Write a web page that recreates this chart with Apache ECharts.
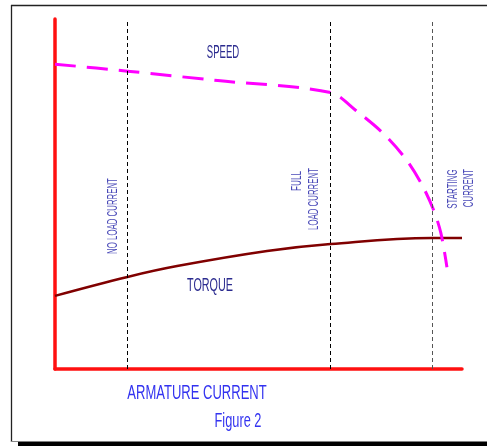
<!DOCTYPE html>
<html>
<head>
<meta charset="utf-8">
<script src="https://cdn.jsdelivr.net/npm/echarts@6/dist/echarts.min.js"></script>
<style>html,body{margin:0;padding:0;background:#fff}#c{width:487px;height:446px}</style>
</head>
<body>
<div id="c"></div>
<script>
// Armature current (x, % of axis) vs speed / torque (y, % of axis)
const speedX = [0, 17.8, 40, 67.7, 74.0, 80.3, 86.0, 90.0, 93.0, 94.8, 96.3];
const speedY = [87.1, 85.1, 82.4, 79.0, 73.8, 67.7, 60.3, 53.0, 45.5, 38.9, 29.1];
const torqueX = [0, 17.8, 30.0, 52.1, 67.7, 92.6, 100];
const torqueY = [20.9, 26.3, 29.4, 33.7, 35.7, 37.4, 37.4];
const markerX = [17.8, 67.7, 92.6];
const markerNames = ['NO LOAD CURRENT', 'FULL LOAD CURRENT', 'STARTING CURRENT'];

const chart = echarts.init(document.getElementById('c'), null, {renderer: 'canvas'});
const FONT = 'Liberation Sans';

function txt(text, x, y, size, color, sx, rot) {
  return {
    type: 'text', x: x, y: y, scaleX: sx, rotation: rot || 0, z: 10,
    style: {text: text, fontFamily: FONT, fontSize: size, fill: color,
            align: 'center', verticalAlign: 'middle'}
  };
}
const R = Math.PI / 2;

chart.setOption({
  animation: false,
  backgroundColor: '#fff',
  grid: {left: 55, right: 25, top: 19, bottom: 77},
  xAxis: {type: 'value', min: 0, max: 100,
    axisLine: {show: true, onZero: false, lineStyle: {color: '#ff1010', width: 3.5}},
    axisTick: {show: false}, axisLabel: {show: false}, splitLine: {show: false}},
  yAxis: {type: 'value', min: 0, max: 100,
    axisLine: {show: true, onZero: false, lineStyle: {color: '#ff1010', width: 3.5}},
    axisTick: {show: false}, axisLabel: {show: false}, splitLine: {show: false}},
  series: [
    {type: 'line', name: 'TORQUE', data: torqueX.map((x, i) => [x, torqueY[i]]),
     smooth: 0.4, symbol: 'none', z: 3,
     lineStyle: {color: '#800000', width: 2.5},
     markLine: {silent: true, symbol: 'none', label: {show: false},
       data: markerX.map((x, i) => ({name: markerNames[i], xAxis: x,
         lineStyle: {color: i === 2 ? '#555' : '#000', width: 1, type: [4, 3]}}))}},
    {type: 'line', name: 'SPEED', data: speedX.map((x, i) => [x, speedY[i]]),
     smooth: 0.3, symbol: 'none', z: 4,
     lineStyle: {color: '#ff00ff', width: 3, type: [21, 11]}}
  ],
  graphic: [
    {type: 'line', shape: {x1: 11, y1: 5.5, x2: 487, y2: 5.5}, style: {stroke: '#222', lineWidth: 1.3}},
    {type: 'line', shape: {x1: 11.5, y1: 5, x2: 11.5, y2: 442}, style: {stroke: '#222', lineWidth: 1.3}},
    {type: 'line', shape: {x1: 11, y1: 441.5, x2: 18, y2: 441.5}, style: {stroke: '#888', lineWidth: 1}},
    {type: 'rect', shape: {x: 18, y: 441.5, width: 469, height: 4.5}, style: {fill: '#000'}},
    txt('SPEED', 223, 53, 18, '#2b2b8f', 0.53),
    txt('TORQUE', 210, 286, 18, '#2b2b8f', 0.6),
    txt('NO LOAD CURRENT', 113, 216, 14, '#4a4ab8', 0.56, R),
    txt('FULL', 297, 181, 14, '#4a4ab8', 0.58, R),
    txt('LOAD CURRENT', 314, 199, 14, '#4a4ab8', 0.56, R),
    txt('STARTING', 453.5, 189, 14, '#4a4ab8', 0.57, R),
    txt('CURRENT', 469, 188, 14, '#4a4ab8', 0.56, R),
    txt('ARMATURE CURRENT', 197, 393, 21, '#3333f0', 0.62),
    txt('Figure 2', 238, 421, 20, '#3333f0', 0.64)
  ]
});
</script>
</body>
</html>
